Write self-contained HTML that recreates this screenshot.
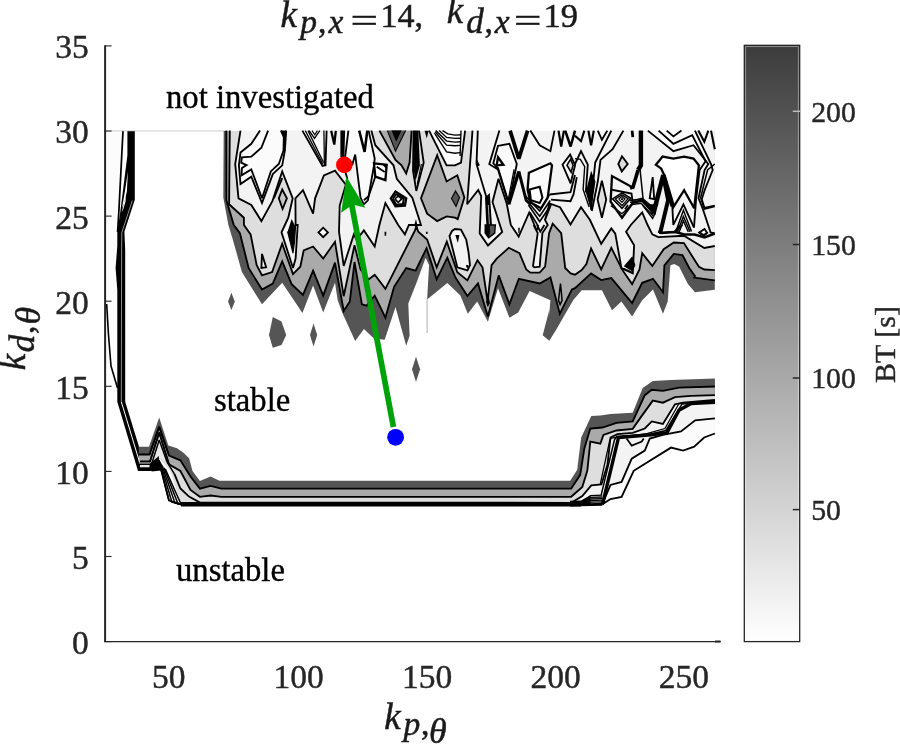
<!DOCTYPE html>
<html lang="en"><head><meta charset="utf-8"><title>k_p,x=14, k_d,x=19</title>
<style>html,body{margin:0;padding:0;background:#fff;overflow:hidden}svg{display:block}</style></head>
<body>
<svg width="900" height="744" viewBox="0 0 900 744">
<rect width="900" height="744" fill="#ffffff"/>
<g id="contours" stroke-linejoin="miter" stroke-miterlimit="3">
<polygon points="137.5,446.7 149.0,446.7 159.2,417.5 168.3,445.5 177.0,448.2 183.8,452.9 189.1,458.3 192.5,471.0 199.9,480.9 210.6,476.5 219.4,480.7 570.2,480.7 577.2,469.8 581.2,437.5 591.3,416.0 600.4,415.4 610.5,414.0 632.7,412.7 642.7,388.1 652.8,381.1 671.0,380.1 714.9,378.5 714.9,433.5 714.9,433.5 704.2,437.5 694.2,446.6 683.1,450.6 671.0,447.6 633.7,470.8 621.6,497.0 610.5,499.0 602.8,504.1 602.0,505.0 181.0,505.5 169.0,500.6 158.9,457.6 149.0,470.5 138.3,470.8" fill="#555555" stroke="none" stroke-width="0"/>
<polygon points="138.5,454.5 149.5,454.5 159.2,426.7 169.0,455.6 180.4,460.3 190.5,476.5 199.9,488.6 210.6,485.9 221.4,488.7 571.2,488.7 580.2,474.8 584.3,448.6 590.3,428.5 602.4,427.5 616.5,422.8 632.7,421.4 644.8,395.2 651.8,389.8 662.9,390.8 679.0,387.7 714.9,386.5 714.9,433.5 714.9,433.5 704.2,437.5 694.2,446.6 683.1,450.6 671.0,447.6 633.7,470.8 621.6,497.0 610.5,499.0 602.8,504.1 602.0,505.0 181.0,505.5 169.0,500.6 158.9,457.6 149.0,470.5 138.3,470.8" fill="#aaaaaa" stroke="none" stroke-width="0"/>
<polygon points="139.5,461.5 150.0,461.5 159.2,432.5 169.0,464.4 180.4,471.0 190.5,489.9 199.9,496.8 210.6,495.5 221.4,496.8 571.2,496.8 582.3,486.9 587.3,470.8 590.3,441.6 600.4,443.6 603.4,434.9 616.5,430.5 632.7,428.9 640.7,417.4 652.8,400.6 662.9,402.7 675.0,397.2 691.1,395.8 714.9,395.2 714.9,433.5 714.9,433.5 704.2,437.5 694.2,446.6 683.1,450.6 671.0,447.6 633.7,470.8 621.6,497.0 610.5,499.0 602.8,504.1 602.0,505.0 181.0,505.5 169.0,500.6 158.9,457.6 149.0,470.5 138.3,470.8" fill="#dedede" stroke="none" stroke-width="0"/>
<polygon points="152.0,462.0 159.2,440.0 166.0,460.0 158.9,457.6" fill="#e8e8e8" stroke="none" stroke-width="0"/>
<polygon points="571.2,502.8 582.3,496.0 591.3,485.3 601.4,484.5 607.5,464.8 610.5,437.5 617.5,434.1 632.7,432.9 644.8,428.5 651.8,421.4 662.9,424.0 675.0,404.3 683.1,402.7 714.9,399.8 714.9,418.4 714.9,418.4 695.2,420.4 681.0,431.5 662.9,434.9 649.8,438.5 644.8,450.6 631.7,458.7 621.6,481.9 610.5,484.9 602.8,503.1 602.0,505.0" fill="#f3f3f3" stroke="none" stroke-width="0"/>
<polygon points="602.8,503.1 610.5,484.9 621.6,481.9 631.7,458.7 644.8,450.6 649.8,438.5 662.9,434.9 681.0,431.5 695.2,420.4 714.9,418.4 714.9,433.5 714.9,433.5 704.2,437.5 694.2,446.6 683.1,450.6 671.0,447.6 633.7,470.8 621.6,497.0 610.5,499.0 602.8,504.1" fill="#fbfbfb" stroke="none" stroke-width="0"/>
<polygon points="618.5,437.5 650.8,434.9 666.9,432.9 679.0,410.3 691.1,403.5 714.9,402.3 714.9,418.4 695.2,420.4 681.0,431.5 662.9,434.9 649.8,438.5 644.8,450.6 631.7,458.7 621.6,481.9 610.5,484.9 602.8,503.1" fill="#f3f3f3" stroke="none" stroke-width="0"/>
<polyline points="138.5,454.5 149.5,454.5 159.2,426.7 169.0,455.6 180.4,460.3 190.5,476.5 199.9,488.6 210.6,485.9 221.4,488.7 571.2,488.7 580.2,474.8 584.3,448.6 590.3,428.5 602.4,427.5 616.5,422.8 632.7,421.4 644.8,395.2 651.8,389.8 662.9,390.8 679.0,387.7 714.9,386.5" fill="none" stroke="#000" stroke-width="1.8399999999999999"/>
<polyline points="139.5,461.5 150.0,461.5 159.2,432.5 169.0,464.4 180.4,471.0 190.5,489.9 199.9,496.8 210.6,495.5 221.4,496.8 571.2,496.8 582.3,486.9 587.3,470.8 590.3,441.6 600.4,443.6 603.4,434.9 616.5,430.5 632.7,428.9 640.7,417.4 652.8,400.6 662.9,402.7 675.0,397.2 691.1,395.8 714.9,395.2" fill="none" stroke="#000" stroke-width="1.8399999999999999"/>
<polyline points="174.4,473.8 180.4,488.5 189.0,496.6 200.0,502.6 571.2,502.8 582.3,496.0 591.3,485.3 601.4,484.5 607.5,464.8 610.5,437.5 617.5,434.1 632.7,432.9 644.8,428.5 651.8,421.4 662.9,424.0 675.0,404.3 683.1,402.7 714.9,399.8" fill="none" stroke="#000" stroke-width="1.8399999999999999"/>
<polyline points="602.8,503.1 610.5,484.9 621.6,481.9 631.7,458.7 644.8,450.6 649.8,438.5 662.9,434.9 681.0,431.5 695.2,420.4 714.9,418.4" fill="none" stroke="#000" stroke-width="1.8399999999999999"/>
<polyline points="602.8,504.1 610.5,499.0 621.6,497.0 633.7,470.8 671.0,447.6 683.1,450.6 694.2,446.6 704.2,437.5 714.9,433.5" fill="none" stroke="#000" stroke-width="1.8399999999999999"/>
<polyline points="626.6,438.5 631.7,445.6 641.7,441.6 643.8,438.5" fill="none" stroke="#000" stroke-width="1.7249999999999999"/>
<polyline points="601.2,494.9 614.4,440.0 616.5,436.5 650.8,434.1 665.9,430.5 682.1,403.9 714.9,401.2" fill="none" stroke="#000" stroke-width="1.4949999999999999"/>
<polyline points="600.2,484.4 609.8,440.0 611.5,438.1 646.8,433.7 664.9,428.5 679.0,403.5 714.9,400.6" fill="none" stroke="#000" stroke-width="1.265"/>
<polyline points="585.1,501.3 590.7,495.6 602.3,495.2" fill="none" stroke="#000" stroke-width="1.265"/>
<polyline points="585.1,501.9 590.7,497.4 602.3,497.0" fill="none" stroke="#000" stroke-width="1.265"/>
<polyline points="585.1,502.4 590.7,499.0 602.3,498.6" fill="none" stroke="#000" stroke-width="1.265"/>
<polyline points="585.1,503.0 590.7,500.6 602.3,500.2" fill="none" stroke="#000" stroke-width="1.265"/>
<polyline points="585.1,503.6 590.7,502.2 602.3,501.8" fill="none" stroke="#000" stroke-width="1.265"/>
<polyline points="585.1,504.1 590.7,503.8 602.3,503.4" fill="none" stroke="#000" stroke-width="1.265"/>
<polygon points="570.0,500.8 581.1,500.5 590.2,495.2 590.5,504.7 570.0,505.5" fill="#000000" stroke="none" stroke-width="0"/>
<polyline points="570.0,505.3 602.3,504.5" fill="none" stroke="#000" stroke-width="2.3"/>
<polyline points="602.0,504.4 602.8,503.1 618.5,437.5 650.8,434.9 666.9,432.9 679.0,410.3 691.1,403.5 714.9,402.3" fill="none" stroke="#000" stroke-width="3.4"/>
<polygon points="181.0,502.1 581.0,502.1 581.0,506.4 181.0,506.4" fill="#000000" stroke="none" stroke-width="0"/>
<polygon points="117.3,401.7 125.2,401.7 138.8,446.0 138.8,463.5 150.0,463.5 158.9,456.0 158.9,470.0 150.0,471.0 138.0,471.0" fill="#000000" stroke="none" stroke-width="0"/>
<polyline points="121.3,401.7 139.5,462.0" fill="none" stroke="#fff" stroke-width="1.0"/>
<polygon points="140.0,465.0 149.5,465.0 149.5,467.3 140.0,467.3" fill="#e8e8e8" stroke="none" stroke-width="0"/>
<polyline points="149.5,454.5 159.2,426.7 169.0,455.6" fill="none" stroke="#000" stroke-width="1.4949999999999999"/>
<polyline points="150.0,461.5 159.2,432.5 169.0,464.4" fill="none" stroke="#000" stroke-width="1.4949999999999999"/>
<polyline points="151.0,466.0 159.2,440.0 167.0,462.0 174.4,473.8" fill="none" stroke="#000" stroke-width="1.4949999999999999"/>
<polygon points="158.9,458.3 169.0,500.6 181.3,504.9 170.3,471.1" fill="#fff" stroke="none" stroke-width="0"/>
<polygon points="152.8,467.3 158.9,459.2 163.6,467.0 161.2,470.5 151.5,471.6" fill="#000000" stroke="none" stroke-width="0"/>
<polyline points="159.8,465.0 169.0,500.6 183.8,505.1" fill="none" stroke="#000" stroke-width="1.5525"/>
<polyline points="161.2,466.0 171.9,502.1 184.2,505.1" fill="none" stroke="#000" stroke-width="1.5525"/>
<polyline points="162.5,466.9 175.0,503.2 184.6,505.1" fill="none" stroke="#000" stroke-width="1.5525"/>
<polyline points="163.9,467.8 178.1,504.1 185.0,505.1" fill="none" stroke="#000" stroke-width="1.5525"/>
<polyline points="165.2,468.8 181.3,504.8 185.4,505.1" fill="none" stroke="#000" stroke-width="1.5525"/>
<polyline points="158.9,460.3 169.0,500.6" fill="none" stroke="#000" stroke-width="1.8399999999999999"/>
<polygon points="106.0,131.0 127.0,131.0 117.0,232.0 117.0,388.0 106.0,304.0" fill="#fcfcfc" stroke="none" stroke-width="0"/>
<polygon points="127.4,130.9 134.8,130.9 134.8,199.8 124.4,231.7 125.2,250.0 125.2,402.0 117.3,402.0 117.3,290.0 115.6,268.0 117.3,246.0 117.3,232.6 120.2,212.4 127.4,155.3" fill="#000000" stroke="none" stroke-width="0"/>
<polyline points="123.0,130.9 118.8,212.4 117.6,232.0" fill="none" stroke="#000" stroke-width="1.7249999999999999"/>
<polygon points="127.9,171.2 124.9,191.4 122.0,207.7 123.9,204.0 126.9,191.4" fill="#fff" stroke="none" stroke-width="0"/>
<polygon points="126.1,194.7 123.7,204.0 121.7,212.4 123.4,209.0 125.5,201.5" fill="#fff" stroke="none" stroke-width="0"/>
<polyline points="132.3,200.6 121.8,232.6 121.6,250.0 121.3,402.0" fill="none" stroke="#ccc" stroke-width="0.7"/>
<polyline points="106.7,304.0 108.5,335.0 111.0,366.0 117.5,388.0" fill="none" stroke="#000" stroke-width="1.6099999999999999"/>
<polyline points="106.0,130.9 225.0,130.9" fill="none" stroke="#b8b8b8" stroke-width="0.7"/>
<polygon points="223.7,130.6 223.3,197.6 228.4,225.0 232.5,238.4 241.9,272.0 262.0,304.3 282.2,282.8 302.4,313.0 313.1,285.5 323.2,312.4 335.0,282.8 337.7,300.3 342.4,312.9 355.2,341.1 363.9,329.0 374.0,338.4 384.7,339.8 395.5,306.9 406.2,345.8 409.6,335.8 408.3,303.5 417.0,281.5 425.6,257.7 429.1,265.2 427.1,299.5 447.3,282.9 460.4,295.5 467.8,313.7 477.2,301.6 487.9,321.8 498.0,288.2 509.4,317.7 518.2,312.4 529.6,290.9 550.4,300.3 549.1,316.4 549.3,310.0 542.7,335.3 549.3,340.7 556.0,330.0 573.3,300.0 581.7,290.2 601.9,290.2 612.0,310.3 621.4,301.6 632.1,316.4 642.2,300.3 653.0,289.5 663.0,313.7 667.7,301.6 670.4,265.3 674.5,264.0 679.2,266.7 687.9,284.1 695.0,292.2 714.8,289.7 714.8,131.0 223.7,131.0" fill="#555555" stroke="none" stroke-width="0"/>
<polygon points="226.4,130.6 226.4,200.3 233.8,225.0 239.9,233.1 248.6,268.0 262.0,289.5 272.8,283.5 282.2,261.3 291.6,284.1 303.0,294.9 313.1,270.7 323.2,295.6 335.0,262.6 343.7,311.0 349.8,301.6 354.5,262.0 361.9,304.3 366.6,305.6 374.7,295.6 385.4,317.7 394.1,286.8 406.2,268.0 415.6,270.7 426.6,248.1 436.7,279.4 447.3,257.7 455.3,277.3 467.4,296.0 478.0,283.4 487.9,316.4 498.7,275.4 509.4,304.3 518.8,278.8 539.7,283.5 550.4,277.4 559.8,313.7 571.9,289.5 575.0,288.2 591.1,273.4 601.2,280.1 611.3,278.1 632.1,303.0 642.2,282.8 653.0,278.8 663.0,292.2 664.4,265.3 673.8,253.9 682.5,255.2 689.2,268.0 695.0,276.1 694.2,277.6 714.8,280.3 714.8,131.0 226.4,131.0" fill="#aaaaaa" stroke="none" stroke-width="0"/>
<polygon points="229.8,130.6 229.1,204.3 243.9,217.7 243.9,225.0 250.6,234.4 256.7,265.3 262.0,275.4 272.1,272.0 282.2,243.8 293.0,274.1 300.3,266.7 303.7,250.5 313.1,246.5 323.2,258.6 335.0,241.8 343.7,296.2 354.5,245.2 360.5,269.4 368.6,279.4 374.7,274.7 385.4,288.8 415.0,230.4 416.3,226.3 418.3,231.7 427.1,239.5 436.7,267.3 446.8,241.6 457.3,272.3 467.4,280.4 477.5,260.2 482.5,267.3 487.6,301.5 491.6,265.2 496.7,258.6 508.8,247.8 519.5,253.2 526.2,269.4 530.3,272.7 539.7,272.7 545.1,266.7 549.1,233.1 552.7,223.7 561.2,233.1 565.2,268.0 570.6,273.4 575.0,274.7 581.7,270.0 586.4,264.0 591.1,248.5 601.2,269.4 611.3,247.8 622.0,269.4 632.1,284.1 639.5,269.4 642.2,253.2 652.3,266.0 663.7,249.2 673.8,242.5 683.9,243.1 698.9,266.8 704.3,269.5 714.8,270.2 714.8,131.0 229.8,131.0" fill="#dedede" stroke="none" stroke-width="0"/>
<polygon points="240.5,130.6 235.2,164.0 238.5,198.3 251.3,205.0 261.4,221.1 272.5,200.9 282.2,171.4 292.7,198.3 288.3,217.7 284.9,225.0 281.5,232.4 293.0,268.0 295.6,258.6 297.7,225.0 295.6,225.0 295.4,198.3 303.0,190.2 313.1,213.7 315.1,198.3 323.9,175.4 335.0,170.7 345.8,184.8 339.7,205.6 339.0,231.7 343.7,266.0 353.8,234.4 356.5,239.8 363.9,230.4 374.7,246.5 379.4,225.0 385.4,203.0 398.2,225.0 404.9,234.4 408.9,225.0 421.0,225.0 412.3,197.6 396.8,178.8 393.5,165.3 375.3,145.2 371.3,130.6" fill="#f3f3f3" stroke="none" stroke-width="0"/>
<polygon points="472.5,130.6 467.1,204.3 478.2,190.0 481.2,196.0 479.7,233.5 488.0,245.5 502.2,232.0 492.5,202.0 498.5,178.7 506.7,203.5 510.8,224.9 518.7,236.5 529.2,212.5 536.7,230.5 533.6,225.0 537.7,233.1 533.0,266.0 534.3,267.3 539.7,266.7 542.4,233.1 547.7,225.0 545.0,220.0 549.5,203.5 560.0,207.2 570.5,224.5 581.0,207.2 590.0,220.0 601.2,243.8 611.3,228.4 615.3,233.7 621.4,268.0 632.8,273.4 634.1,245.2 626.1,231.7 630.8,225.0 642.2,212.4 647.6,225.0 652.3,234.4 658.3,237.1 683.9,235.8 704.3,248.0 714.8,246.0 714.8,131.0" fill="#f3f3f3" stroke="none" stroke-width="0"/>
<polyline points="226.4,130.6 226.4,200.3 233.8,225.0 239.9,233.1 248.6,268.0 262.0,289.5 272.8,283.5 282.2,261.3 291.6,284.1 303.0,294.9 313.1,270.7 323.2,295.6 335.0,262.6 343.7,311.0 349.8,301.6 354.5,262.0 361.9,304.3 366.6,305.6 374.7,295.6 385.4,317.7 394.1,286.8 406.2,268.0 415.6,270.7 426.6,248.1 436.7,279.4 447.3,257.7 455.3,277.3 467.4,296.0 478.0,283.4 487.9,316.4 498.7,275.4 509.4,304.3 518.8,278.8 539.7,283.5 550.4,277.4 559.8,313.7 571.9,289.5 575.0,288.2 591.1,273.4 601.2,280.1 611.3,278.1 632.1,303.0 642.2,282.8 653.0,278.8 663.0,292.2 664.4,265.3 673.8,253.9 682.5,255.2 689.2,268.0 695.0,276.1 694.2,277.6 714.8,280.3" fill="none" stroke="#000" stroke-width="1.8399999999999999"/>
<polyline points="229.8,130.6 229.1,204.3 243.9,217.7 243.9,225.0 250.6,234.4 256.7,265.3 262.0,275.4 272.1,272.0 282.2,243.8 293.0,274.1 300.3,266.7 303.7,250.5 313.1,246.5 323.2,258.6 335.0,241.8 343.7,296.2 354.5,245.2 360.5,269.4 368.6,279.4 374.7,274.7 385.4,288.8 415.0,230.4 416.3,226.3 418.3,231.7 427.1,239.5 436.7,267.3 446.8,241.6 457.3,272.3 467.4,280.4 477.5,260.2 482.5,267.3 487.6,301.5 491.6,265.2 496.7,258.6 508.8,247.8 519.5,253.2 526.2,269.4 530.3,272.7 539.7,272.7 545.1,266.7 549.1,233.1 552.7,223.7 561.2,233.1 565.2,268.0 570.6,273.4 575.0,274.7 581.7,270.0 586.4,264.0 591.1,248.5 601.2,269.4 611.3,247.8 622.0,269.4 632.1,284.1 639.5,269.4 642.2,253.2 652.3,266.0 663.7,249.2 673.8,242.5 683.9,243.1 698.9,266.8 704.3,269.5 714.8,270.2" fill="none" stroke="#000" stroke-width="1.8399999999999999"/>
<polyline points="240.5,130.6 235.2,164.0 238.5,198.3 251.3,205.0 261.4,221.1 272.5,200.9 282.2,171.4 292.7,198.3 288.3,217.7 284.9,225.0 281.5,232.4 293.0,268.0 295.6,258.6 297.7,225.0 295.6,225.0 295.4,198.3 303.0,190.2 313.1,213.7 315.1,198.3 323.9,175.4 335.0,170.7 345.8,184.8 339.7,205.6 339.0,231.7 343.7,266.0 353.8,234.4 356.5,239.8 363.9,230.4 374.7,246.5 379.4,225.0 385.4,203.0 398.2,225.0 404.9,234.4 408.9,225.0 421.0,225.0 412.3,197.6 396.8,178.8 393.5,165.3 375.3,145.2 371.3,130.6" fill="none" stroke="#000" stroke-width="1.8399999999999999"/>
<polyline points="472.5,130.6 467.1,204.3 478.2,190.0 481.2,196.0 479.7,233.5 488.0,245.5 502.2,232.0 492.5,202.0 498.5,178.7 506.7,203.5 510.8,224.9 518.7,236.5 529.2,212.5 536.7,230.5 533.6,225.0 537.7,233.1 533.0,266.0 534.3,267.3 539.7,266.7 542.4,233.1 547.7,225.0 545.0,220.0 549.5,203.5 560.0,207.2 570.5,224.5 581.0,207.2 590.0,220.0 601.2,243.8 611.3,228.4 615.3,233.7 621.4,268.0 632.8,273.4 634.1,245.2 626.1,231.7 630.8,225.0 642.2,212.4 647.6,225.0 652.3,234.4 658.3,237.1 683.9,235.8 704.3,248.0 714.8,246.0" fill="none" stroke="#000" stroke-width="1.8399999999999999"/>
<polyline points="427.1,299.5 427.1,333.0" fill="none" stroke="#9a9a9a" stroke-width="0.8"/>
<polygon points="228.0,301.4 231.4,292.7 234.8,301.4 231.4,309.9" fill="#555555" stroke="none" stroke-width="0"/>
<polygon points="272.8,316.9 281.5,321.6 286.2,335.0 281.5,345.1 272.8,347.8 269.0,335.0" fill="#555555" stroke="none" stroke-width="0"/>
<polygon points="313.5,323.6 317.2,335.0 313.5,346.5 310.0,335.0" fill="#555555" stroke="none" stroke-width="0"/>
<polygon points="416.0,356.8 420.1,369.3 416.0,382.1 412.0,369.3" fill="#555555" stroke="none" stroke-width="0"/>
<polygon points="262.0,253.9 266.1,267.3 261.4,268.0" fill="#fbfbfb" stroke="#000" stroke-width="1.8399999999999999"/>
<polygon points="291.6,219.1 294.6,225.0 295.6,225.0 294.6,241.1 293.0,253.2 290.7,243.8 287.6,231.7" fill="#000000" stroke="none" stroke-width="0"/>
<polyline points="295.6,225.0 294.6,241.1 293.0,253.2 290.7,243.8 287.6,231.7" fill="none" stroke="#000" stroke-width="1.15"/>
<polygon points="318.5,232.4 323.2,227.7 327.9,232.4 323.2,237.1" fill="#ffffff" stroke="#000" stroke-width="1.8399999999999999"/>
<polygon points="260.0,130.6 251.3,143.8 240.5,152.6 238.9,165.3 240.5,184.1 251.3,176.7 262.0,203.0 272.8,174.1 282.2,165.3 284.9,150.5 286.2,130.6" fill="#fbfbfb" stroke="none" stroke-width="0"/>
<polyline points="260.0,130.6 251.3,143.8 240.5,152.6 238.9,165.3 240.5,184.1 251.3,176.7 262.0,203.0 272.8,174.1 282.2,165.3 284.9,150.5 286.2,130.6" fill="none" stroke="#000" stroke-width="1.8399999999999999"/>
<polyline points="268.1,130.6 261.4,147.8 251.3,156.6 241.9,157.3 241.2,162.6 246.6,165.1 241.9,168.0 241.6,175.4 251.3,169.4 262.0,198.3 270.8,171.4 278.8,164.0 283.5,150.5 283.8,137.1 280.9,130.6" fill="none" stroke="#000" stroke-width="1.8399999999999999"/>
<polygon points="280.6,130.6 286.2,130.6 285.2,150.5 283.5,150.5 283.8,137.1" fill="#000000" stroke="none" stroke-width="0"/>
<polygon points="282.2,189.5 286.9,198.3 282.6,209.0 278.8,198.3" fill="#c4c4c4" stroke="#000" stroke-width="1.8399999999999999"/>
<polyline points="273.9,198.3 282.2,178.1" fill="none" stroke="#000" stroke-width="1.8399999999999999"/>
<polygon points="302.4,130.6 322.5,166.0 325.5,165.3 326.6,130.6" fill="#fbfbfb" stroke="none" stroke-width="0"/>
<polyline points="302.4,130.6 322.5,166.0 325.5,165.3 326.6,130.6" fill="none" stroke="#000" stroke-width="1.8399999999999999"/>
<polyline points="305.3,130.6 322.9,164.2" fill="none" stroke="#000" stroke-width="1.265"/>
<polyline points="308.0,130.6 323.6,162.6" fill="none" stroke="#000" stroke-width="1.265"/>
<polyline points="323.9,130.6 324.4,165.3" fill="none" stroke="#000" stroke-width="1.265"/>
<polyline points="309.1,130.6 314.5,138.4 319.8,130.6" fill="none" stroke="#000" stroke-width="1.38"/>
<polyline points="312.0,130.6 314.7,134.7 317.4,130.6" fill="none" stroke="#000" stroke-width="1.15"/>
<polyline points="331.2,130.8 334.3,144.5 335.8,130.8" fill="none" stroke="#000" stroke-width="2.3"/>
<polygon points="348.4,130.6 345.1,157.3 352.5,164.0 355.2,154.6 360.5,197.6 363.9,204.3 367.9,200.3 374.0,165.3 374.7,158.6 368.6,130.6" fill="#fbfbfb" stroke="none" stroke-width="0"/>
<polyline points="348.4,130.6 345.1,157.3 352.5,164.0 355.2,154.6 360.5,197.6 363.9,204.3 367.9,200.3 374.0,165.3 374.7,158.6 368.6,130.6" fill="none" stroke="#000" stroke-width="1.8399999999999999"/>
<polygon points="340.4,130.6 345.1,130.6 344.4,157.3 340.4,157.3" fill="#000000" stroke="none" stroke-width="0"/>
<polyline points="345.7,173.0 347.4,179.0" fill="none" stroke="#000" stroke-width="1.8399999999999999"/>
<polyline points="359.2,130.6 364.6,151.9 367.3,130.6" fill="none" stroke="#000" stroke-width="2.53"/>
<polyline points="363.9,200.3 368.6,196.2 375.3,176.7" fill="none" stroke="#000" stroke-width="1.8399999999999999"/>
<polygon points="374.0,163.3 386.7,164.7 385.4,180.1 375.3,176.7" fill="#ffffff" stroke="#000" stroke-width="2.3"/>
<polyline points="376.7,166.7 384.7,172.0" fill="none" stroke="#000" stroke-width="1.8399999999999999"/>
<polygon points="380.4,163.7 387.0,164.5 386.6,169.4 383.7,166.0" fill="#000000" stroke="none" stroke-width="0"/>
<polygon points="379.4,130.6 395.5,159.9 401.5,165.3 406.2,173.4 409.6,162.6 411.6,130.6" fill="#aaaaaa" stroke="none" stroke-width="0"/>
<polyline points="379.4,130.6 395.5,159.9 401.5,165.3 406.2,173.4 409.6,162.6 411.6,130.6" fill="none" stroke="#000" stroke-width="1.8399999999999999"/>
<polygon points="387.4,130.6 395.5,151.2 405.6,130.6" fill="#555555" stroke="none" stroke-width="0"/>
<polyline points="387.4,130.6 395.5,151.2 405.6,130.6" fill="none" stroke="#000" stroke-width="1.15"/>
<polygon points="391.5,130.6 396.2,141.8 401.5,130.6" fill="#000000" stroke="none" stroke-width="0"/>
<polyline points="413.6,130.6 413.0,170.7 416.3,190.9 423.7,162.6 419.0,130.6" fill="none" stroke="#000" stroke-width="1.8399999999999999"/>
<polygon points="414.0,130.6 413.5,169.4 415.6,180.8 419.9,165.3 418.3,130.6" fill="#000000" stroke="none" stroke-width="0"/>
<polyline points="421.4,164.0 417.3,184.1" fill="none" stroke="#000" stroke-width="1.15"/>
<polygon points="437.2,155.2 446.6,181.5 457.3,175.3 464.4,197.6 457.7,219.1 455.0,217.7 446.6,216.4 437.2,221.1 427.1,213.7 421.0,198.3" fill="#aaaaaa" stroke="#000" stroke-width="1.8399999999999999"/>
<polygon points="451.5,198.5 455.5,191.0 459.5,197.5 456.0,206.5" fill="#555555" stroke="#000" stroke-width="1.15"/>
<polygon points="429.1,130.6 446.6,165.3 455.0,165.3 461.0,162.6 465.1,130.6" fill="#fbfbfb" stroke="none" stroke-width="0"/>
<polyline points="429.1,130.6 446.6,165.3 455.0,165.3 461.0,162.6 465.1,130.6" fill="none" stroke="#000" stroke-width="1.8399999999999999"/>
<polyline points="434.5,133.1 446.6,151.9 455.0,153.2 460.1,152.6" fill="none" stroke="#000" stroke-width="1.38"/>
<polyline points="435.1,131.7 446.6,145.2 455.0,145.8 460.4,145.4" fill="none" stroke="#000" stroke-width="1.38"/>
<polyline points="435.8,130.6 446.6,141.1 455.0,142.1 460.6,141.8" fill="none" stroke="#000" stroke-width="1.38"/>
<polyline points="439.2,130.6 446.6,137.4 455.0,138.4 460.9,138.2" fill="none" stroke="#000" stroke-width="1.38"/>
<polyline points="442.5,130.6 447.9,133.9 455.0,135.1 461.2,134.7" fill="none" stroke="#000" stroke-width="1.38"/>
<polyline points="461.0,130.6 460.1,155.9" fill="none" stroke="#000" stroke-width="1.38"/>
<polygon points="424.6,130.8 426.8,138.5 428.6,130.8" fill="#000000" stroke="none" stroke-width="0"/>
<polygon points="390.8,198.3 395.5,191.5 406.2,198.3 404.9,205.6 395.5,206.3" fill="#f3f3f3" stroke="#000" stroke-width="2.3"/>
<polyline points="392.8,198.7 396.2,194.2 403.8,198.7 402.9,204.0 396.2,204.6 392.8,198.7" fill="none" stroke="#000" stroke-width="1.9549999999999998"/>
<polyline points="394.8,198.9 398.2,196.2 401.8,198.9 398.2,202.3 394.8,198.9" fill="none" stroke="#000" stroke-width="1.6099999999999999"/>
<polygon points="414.3,225.0 416.0,219.1 417.3,225.0" fill="#000000" stroke="none" stroke-width="0"/>
<polygon points="384.5,231.7 386.3,231.7 386.1,235.8 384.7,235.8" fill="#000000" stroke="none" stroke-width="0"/>
<polygon points="425.9,231.7 427.7,231.7 427.5,233.9 426.1,233.9" fill="#000000" stroke="none" stroke-width="0"/>
<polygon points="415.1,225.0 417.3,225.0 418.1,231.0 415.6,229.0" fill="#000000" stroke="none" stroke-width="0"/>
<polygon points="449.5,236.0 452.0,231.0 455.0,229.0 461.0,229.7 466.2,239.5 468.5,252.0 470.0,265.2 467.4,270.3 457.3,267.3" fill="#f3f3f3" stroke="#000" stroke-width="1.8399999999999999"/>
<polygon points="455.3,235.0 459.4,235.0 457.8,243.1" fill="#000000" stroke="none" stroke-width="0"/>
<polygon points="465.9,265.2 468.4,264.7 468.4,267.8 466.6,267.8" fill="#000000" stroke="none" stroke-width="0"/>
<polyline points="477.8,130.6 476.5,164.0 487.3,200.3" fill="none" stroke="#000" stroke-width="1.8399999999999999"/>
<polygon points="476.5,158.6 479.9,165.3 476.8,166.7" fill="#000000" stroke="none" stroke-width="0"/>
<polygon points="485.0,197.5 486.8,235.0 492.5,233.5 489.8,193.0" fill="#000000" stroke="none" stroke-width="0"/>
<polyline points="488.3,205.0 489.8,232.0" fill="none" stroke="#bbb" stroke-width="0.9"/>
<polygon points="498.0,145.8 509.4,143.8 516.8,164.0 508.8,203.0 498.0,168.0 493.3,163.3" fill="#fbfbfb" stroke="#000" stroke-width="1.8399999999999999"/>
<polyline points="499.4,130.6 489.3,164.2 498.0,169.4 508.8,204.6" fill="none" stroke="#000" stroke-width="1.8399999999999999"/>
<polygon points="498.0,157.3 503.4,164.7 496.7,165.3" fill="#ffffff" stroke="#000" stroke-width="2.3"/>
<polyline points="510.1,130.6 518.8,158.6 527.6,130.6" fill="none" stroke="#000" stroke-width="3.7"/>
<polyline points="508.8,204.3 518.8,171.4" fill="none" stroke="#000" stroke-width="3.3"/>
<polyline points="518.8,171.4 526.2,200.3 530.3,204.3" fill="none" stroke="#000" stroke-width="3.0"/>
<polyline points="514.1,169.4 508.1,200.3" fill="none" stroke="#000" stroke-width="1.265"/>
<polygon points="528.9,172.7 550.4,163.3 552.0,165.3 547.7,197.6 541.0,208.3 530.3,202.3 527.6,189.5" fill="#fbfbfb" stroke="#000" stroke-width="2.3"/>
<polygon points="529.6,189.5 539.7,186.8 542.4,197.6 539.7,203.0 530.9,200.3" fill="#ffffff" stroke="#000" stroke-width="2.07"/>
<polyline points="525.5,196.0 539.7,211.0 549.5,194.5" fill="none" stroke="#000" stroke-width="1.6099999999999999"/>
<polyline points="527.0,200.5 539.7,216.2 550.2,200.5" fill="none" stroke="#000" stroke-width="1.6099999999999999"/>
<polyline points="528.5,205.0 539.7,221.5 551.0,205.0 545.0,220.0" fill="none" stroke="#000" stroke-width="1.6099999999999999"/>
<polyline points="530.0,212.5 538.2,226.0 536.7,230.5" fill="none" stroke="#000" stroke-width="1.6099999999999999"/>
<polyline points="549.5,194.5 570.5,192.2 575.0,175.0" fill="none" stroke="#000" stroke-width="1.8399999999999999"/>
<polyline points="551.0,199.7 570.5,201.2 573.5,194.5 576.8,177.2" fill="none" stroke="#000" stroke-width="1.8399999999999999"/>
<polyline points="551.0,205.0 549.5,203.5" fill="none" stroke="#000" stroke-width="1.8399999999999999"/>
<polyline points="530.3,130.6 539.7,145.2 550.4,151.2 554.5,130.6" fill="none" stroke="#000" stroke-width="1.8399999999999999"/>
<polyline points="558.5,130.6 561.2,146.5 563.9,130.6" fill="none" stroke="#000" stroke-width="2.1849999999999996"/>
<polyline points="565.2,130.6 570.6,146.5 575.0,130.6" fill="none" stroke="#000" stroke-width="2.53"/>
<polygon points="562.5,164.7 570.1,154.6 575.1,165.2 570.6,183.3" fill="#fbfbfb" stroke="#000" stroke-width="1.8399999999999999"/>
<polygon points="567.0,165.2 570.6,159.2 573.1,165.2 571.1,172.3" fill="#dedede" stroke="#000" stroke-width="1.6099999999999999"/>
<polygon points="518.2,227.7 519.8,227.7 519.5,233.3 518.4,233.3" fill="#000000" stroke="none" stroke-width="0"/>
<polyline points="537.0,225.0 540.3,231.7 544.4,225.0" fill="none" stroke="#000" stroke-width="1.8399999999999999"/>
<polygon points="560.5,283.5 562.1,300.3 560.1,304.6 558.5,300.3" fill="#aaaaaa" stroke="#000" stroke-width="1.4949999999999999"/>
<polygon points="487.9,296.2 489.4,303.0 487.9,305.9 486.7,302.3" fill="#000000" stroke="#000" stroke-width="1.15"/>
<polygon points="485.2,225.0 485.2,233.1 488.6,237.8 494.7,233.1 495.3,225.0" fill="#555555" stroke="#000" stroke-width="1.38"/>
<polygon points="485.2,225.0 485.2,233.1 488.6,237.8 490.2,233.1 489.7,225.0" fill="#000000" stroke="none" stroke-width="0"/>
<polyline points="575.0,135.8 581.0,141.1 584.4,130.6" fill="none" stroke="#000" stroke-width="2.07"/>
<polyline points="588.4,130.6 591.1,145.2 593.8,130.6" fill="none" stroke="#000" stroke-width="2.1849999999999996"/>
<polyline points="597.8,130.6 601.9,139.8 607.3,130.6" fill="none" stroke="#000" stroke-width="1.8399999999999999"/>
<polyline points="611.3,130.6 595.2,162.6 592.5,189.5 591.1,209.7" fill="none" stroke="#000" stroke-width="1.8399999999999999"/>
<polyline points="623.4,130.6 612.6,149.2 600.5,159.9 597.8,181.5 591.8,211.0" fill="none" stroke="#000" stroke-width="1.8399999999999999"/>
<polygon points="585.8,192.2 591.1,211.0 595.4,181.5 591.1,170.7" fill="#000000" stroke="none" stroke-width="0"/>
<polyline points="575.0,164.0 581.0,151.2 587.8,164.7 585.8,192.2" fill="none" stroke="#000" stroke-width="1.8399999999999999"/>
<polyline points="575.0,158.6 580.4,159.3 584.7,166.7 583.1,189.5 589.1,207.0" fill="none" stroke="#000" stroke-width="1.38"/>
<polygon points="622.0,156.2 627.7,164.0 621.8,171.4 618.3,164.0" fill="#dedede" stroke="#000" stroke-width="1.8399999999999999"/>
<polygon points="601.9,180.8 606.2,199.6 601.9,217.7 597.6,199.6" fill="#dedede" stroke="#000" stroke-width="1.8399999999999999"/>
<polyline points="640.9,130.6 640.9,165.3 638.1,170.0" fill="none" stroke="#000" stroke-width="4.4"/>
<polyline points="632.1,130.6 632.8,137.1" fill="none" stroke="#000" stroke-width="2.76"/>
<polyline points="634.1,188.2 612.0,176.1 610.6,201.6 622.0,217.7 632.8,203.0 642.2,200.3 654.3,211.7" fill="none" stroke="#000" stroke-width="2.3"/>
<polygon points="612.6,198.9 622.0,192.9 630.8,198.3 622.0,208.3" fill="#fbfbfb" stroke="#000" stroke-width="1.6099999999999999"/>
<polyline points="615.3,198.9 622.0,194.9 628.1,198.7 622.0,205.6 615.3,198.9" fill="none" stroke="#000" stroke-width="1.38"/>
<polyline points="618.7,198.9 622.0,196.5 625.0,198.9 622.0,202.3 618.7,198.9" fill="none" stroke="#000" stroke-width="1.265"/>
<polygon points="621.1,198.3 623.0,198.3 623.0,199.9 621.1,199.9" fill="#000000" stroke="none" stroke-width="0"/>
<polyline points="610.6,189.5 631.5,193.5 632.8,203.0" fill="none" stroke="#000" stroke-width="1.8399999999999999"/>
<polyline points="610.9,205.6 622.0,213.7 632.1,204.3" fill="none" stroke="#000" stroke-width="1.38"/>
<polyline points="632.8,200.3 642.2,198.3 654.3,208.3" fill="none" stroke="#000" stroke-width="1.265"/>
<polygon points="647.8,130.6 673.4,151.2 693.5,145.2 708.3,164.0 711.0,164.0 694.9,130.6" fill="#fbfbfb" stroke="none" stroke-width="0"/>
<polygon points="655.9,164.7 662.6,156.6 673.4,158.6 684.1,156.6 693.5,158.6 698.9,165.3 694.2,208.3 684.1,190.2 673.4,207.0 664.0,174.7 661.3,168.7" fill="#ffffff" stroke="#000" stroke-width="2.3"/>
<polyline points="647.8,130.6 673.4,151.2 693.5,145.2 708.3,164.0 704.6,170.0 698.5,198.2 702.6,208.3 710.6,232.5 714.7,233.5" fill="none" stroke="#000" stroke-width="1.8399999999999999"/>
<polyline points="658.6,130.6 673.4,143.8 692.2,135.1 705.6,161.3 699.6,170.0 696.0,200.2 694.0,227.5" fill="none" stroke="#000" stroke-width="1.8399999999999999"/>
<polyline points="666.7,130.6 673.4,136.4 681.5,130.6" fill="none" stroke="#000" stroke-width="1.8399999999999999"/>
<polyline points="694.9,130.6 711.0,164.0 712.7,170.0 704.6,190.2 701.8,199.2 704.6,208.8 714.7,206.3" fill="none" stroke="#000" stroke-width="1.8399999999999999"/>
<polyline points="698.3,130.6 704.3,141.8 708.3,130.6" fill="none" stroke="#000" stroke-width="2.07"/>
<polyline points="711.0,130.6 714.8,149.2" fill="none" stroke="#000" stroke-width="2.07"/>
<polyline points="714.8,164.0 707.6,170.0 700.6,197.7 704.1,207.8" fill="none" stroke="#000" stroke-width="1.4949999999999999"/>
<polyline points="653.2,214.4 663.3,175.0" fill="none" stroke="#000" stroke-width="4.6"/>
<polyline points="663.3,175.0 672.8,206.3" fill="none" stroke="#000" stroke-width="4.6"/>
<polyline points="664.3,181.1 668.1,200.2 660.2,233.0" fill="none" stroke="#000" stroke-width="4.0"/>
<polyline points="660.2,233.0 675.4,232.0 684.4,234.5 694.5,234.5 704.6,237.5 714.7,233.5" fill="none" stroke="#000" stroke-width="2.53"/>
<polyline points="672.3,206.3 673.3,224.9 683.4,204.3 694.0,227.5" fill="none" stroke="#000" stroke-width="1.8399999999999999"/>
<polyline points="675.9,231.5 683.4,210.3 691.5,231.5" fill="none" stroke="#000" stroke-width="1.4949999999999999"/>
<polyline points="677.4,232.0 683.4,216.4 690.0,231.7" fill="none" stroke="#000" stroke-width="1.4949999999999999"/>
<polyline points="679.2,232.0 683.4,220.9 688.3,232.0" fill="none" stroke="#000" stroke-width="1.38"/>
<polygon points="698.5,232.5 704.6,228.5 707.6,233.0 703.6,236.5" fill="#000000" stroke="#000" stroke-width="1.15"/>
<polygon points="701.1,232.3 704.4,230.3 705.8,232.7 703.4,233.9" fill="#fbfbfb" stroke="none" stroke-width="0"/>
<polygon points="652.7,177.1 654.2,199.2 649.7,198.2" fill="#fbfbfb" stroke="#000" stroke-width="1.8399999999999999"/>
<polyline points="630.0,200.2 643.1,199.7 652.7,210.3" fill="none" stroke="#000" stroke-width="1.38"/>
<polyline points="630.0,202.3 642.1,201.2 652.7,212.8" fill="none" stroke="#000" stroke-width="1.38"/>
<polyline points="630.0,204.8 641.1,203.3 653.2,215.9" fill="none" stroke="#000" stroke-width="1.38"/>
<polyline points="638.1,170.0 633.0,187.1 630.0,188.1" fill="none" stroke="#000" stroke-width="3.6"/>
<polyline points="640.1,170.0 643.1,199.2" fill="none" stroke="#000" stroke-width="1.4949999999999999"/>
<polyline points="704.3,208.0 714.8,205.7" fill="none" stroke="#000" stroke-width="1.8399999999999999"/>
<polygon points="646.5,205.0 652.6,213.3 657.3,205.0" fill="#000000" stroke="#000" stroke-width="1.38"/>
<polyline points="625.0,209.3 628.0,205.0" fill="none" stroke="#000" stroke-width="1.8399999999999999"/>
<polyline points="642.5,205.0 652.6,218.4 655.2,213.1" fill="none" stroke="#000" stroke-width="1.38"/>
<polygon points="624.7,266.0 632.1,257.3 634.8,265.3 632.1,270.7" fill="#000000" stroke="#000" stroke-width="1.15"/>
<polyline points="623.4,268.3 632.1,272.3" fill="none" stroke="#000" stroke-width="1.38"/>
<polyline points="659.0,233.1 662.4,225.0" fill="none" stroke="#000" stroke-width="2.76"/>
<polyline points="659.0,233.1 674.5,231.7 679.8,225.0" fill="none" stroke="#000" stroke-width="1.7249999999999999"/>
<polyline points="677.2,230.4 682.5,225.0" fill="none" stroke="#000" stroke-width="1.4949999999999999"/>
</g>
<g id="annot">
<line x1="393.4" y1="427" x2="351.6" y2="204" stroke="#00a20a" stroke-width="5.7"/>
<polygon points="346.3,176.5 365.3,207.8 352.8,204.6 341.2,212.8" fill="#00a20a"/>
<circle cx="344.3" cy="164.9" r="8.3" fill="#ff0000"/>
<circle cx="395.6" cy="437.3" r="8.4" fill="#0000ff"/>
</g>
<g id="axes" fill="none" stroke="#262626">
<path d="M105.1,45.2 V642.1" stroke-width="2"/>
<path d="M104.1,641.6 H720.6" stroke-width="1.1"/>
<path d="M715,641.5 H720.6" stroke-width="2"/>
<path d="M105,641.6 H111.6" stroke-width="1.1"/>
<path d="M105,556.5 H111.6" stroke-width="1.1"/>
<path d="M105,471.4 H111.6" stroke-width="1.1"/>
<path d="M105,386.3 H111.6" stroke-width="1.1"/>
<path d="M105,301.2 H111.6" stroke-width="1.1"/>
<path d="M105,216.1 H111.6" stroke-width="1.1"/>
<path d="M105,131.0 H111.6" stroke-width="1.1"/>
<path d="M105,45.9 H111.6" stroke-width="1.1"/>
</g>
<g id="ticks" font-family="'Liberation Serif', serif" font-size="33.5" fill="#262626" stroke="#262626" stroke-width="0.45">
<text x="88.8" y="654.0" text-anchor="end">0</text>
<text x="88.8" y="568.9" text-anchor="end">5</text>
<text x="88.8" y="483.8" text-anchor="end">10</text>
<text x="88.8" y="398.7" text-anchor="end">15</text>
<text x="88.8" y="313.6" text-anchor="end">20</text>
<text x="88.8" y="228.5" text-anchor="end">25</text>
<text x="88.8" y="143.4" text-anchor="end">30</text>
<text x="88.8" y="58.3" text-anchor="end">35</text>
<text x="168.7" y="687.6" text-anchor="middle">50</text>
<text x="298.7" y="687.6" text-anchor="middle">100</text>
<text x="427.2" y="687.6" text-anchor="middle">150</text>
<text x="555.5" y="687.6" text-anchor="middle">200</text>
<text x="683.8" y="687.6" text-anchor="middle">250</text>
</g>
<g font-family="'Liberation Serif', serif" font-size="32.7" fill="#000" stroke="#000" stroke-width="0.35">
<text x="166" y="108">not investigated</text>
<text x="214" y="410.5">stable</text>
<text x="176" y="580.5">unstable</text>
</g>
<g id="title" font-family="'Liberation Serif', serif" font-size="33.5" fill="#1a1a1a" stroke="#1a1a1a" stroke-width="0.5">
<text x="280.5" y="26.7" font-style="italic" font-size="37">k</text>
<text x="300.2" y="32.9" font-style="italic">p</text>
<text x="318" y="32.9">,</text>
<text x="328.5" y="32.9" font-style="italic">x</text>
<text x="350.5" y="32.3" textLength="27.5" lengthAdjust="spacingAndGlyphs">=</text>
<text x="380.5" y="26.8" font-size="34">14,</text>
<text x="446.8" y="23.1" font-style="italic" font-size="37">k</text>
<text x="466.3" y="32.9" font-style="italic" font-size="35">d</text>
<text x="484.5" y="32.9">,</text>
<text x="494.8" y="32.9" font-style="italic">x</text>
<text x="514" y="32.3" textLength="27.5" lengthAdjust="spacingAndGlyphs">=</text>
<text x="543.5" y="27.3" font-size="34.5">19</text>
</g>
<g id="xlabel" font-family="'Liberation Serif', serif" font-size="33.5" fill="#1a1a1a" stroke="#1a1a1a" stroke-width="0.5">
<text x="384.3" y="728.7" font-style="italic" font-size="37">k</text>
<text x="403.5" y="735" font-style="italic">p</text>
<text x="421" y="735">,</text>
<text x="429" y="742.5" font-style="italic" font-size="36">θ</text>
</g>
<g id="ylabel" font-family="'Liberation Serif', serif" font-size="33.5" fill="#1a1a1a" stroke="#1a1a1a" stroke-width="0.5" transform="rotate(-90)">
<text x="-370.3" y="25.4" font-style="italic" font-size="37">k</text>
<text x="-352.3" y="33.7" font-style="italic" font-size="35">d</text>
<text x="-334" y="33.7">,</text>
<text x="-324.5" y="40.3" font-style="italic" font-size="36">θ</text>
</g>
<defs><linearGradient id="cb" x1="0" y1="0" x2="0" y2="1"><stop offset="0" stop-color="#3c3c3c"/><stop offset="1" stop-color="#ffffff"/></linearGradient></defs>
<rect x="744.3" y="45.3" width="55.4" height="596.3" fill="url(#cb)"/>
<path d="M745.6,641 V46.6 H798.4 V641" fill="none" stroke="#ffffff" stroke-opacity="0.42" stroke-width="1"/>
<rect x="744.3" y="45.3" width="55.4" height="596.3" fill="none" stroke="#262626" stroke-width="1.3"/>
<path d="M792.8,111.3 H800" stroke="#bdbdbd" stroke-width="1.5"/>
<path d="M792.8,244.5 H800" stroke="#262626" stroke-width="1.5"/>
<path d="M792.8,378 H800" stroke="#262626" stroke-width="1.5"/>
<path d="M792.8,509.6 H800" stroke="#262626" stroke-width="1.5"/>
<g font-family="'Liberation Serif', serif" font-size="29.8" fill="#262626" stroke="#262626" stroke-width="0.4">
<text x="811.2" y="121.5">200</text>
<text x="811.2" y="254.7">150</text>
<text x="811.2" y="388.2">100</text>
<text x="811.2" y="519.8">50</text>
</g>
<text transform="translate(894.5,344.5) rotate(-90)" text-anchor="middle" font-family="'Liberation Serif', serif" font-size="30" fill="#262626" stroke="#262626" stroke-width="0.4">BT [s]</text>
</svg>
</body></html>
